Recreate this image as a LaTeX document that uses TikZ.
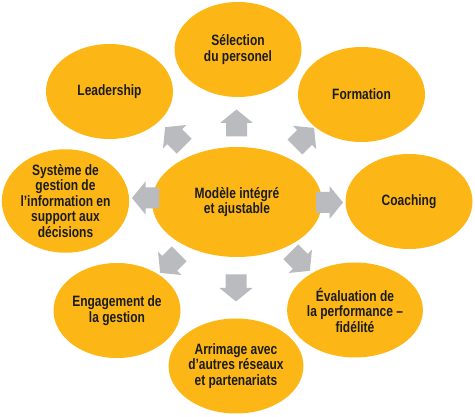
\documentclass[tikz,border=0pt]{standalone}
\usepackage{fontspec}
\setmainfont{Liberation Sans}[FakeStretch=0.8]
\usetikzlibrary{shapes.geometric}
\definecolor{ovalfill}{RGB}{252,183,22}
\definecolor{arrowgrey}{RGB}{185,187,191}
\definecolor{labeltext}{RGB}{28,28,28}
\begin{document}
\begin{tikzpicture}[x=1pt,y=-1pt,
  oval/.style={ellipse, fill=ovalfill, minimum width=127pt, minimum height=95pt,
    inner sep=0pt, align=center, text=labeltext,
    font=\bfseries\fontsize{15}{15.5}\selectfont},
  blockarrow/.pic={\fill[arrowgrey] (-13.5,-10.5) -- (0,-10.5) -- (0,-16.5)
    -- (13.5,0) -- (0,16.5) -- (0,10.5) -- (-13.5,10.5) -- cycle;}]
\fill[white] (0,0) rectangle (475,417);
\useasboundingbox (0,0) rectangle (475,417);
% central
\node[oval, minimum width=170pt, minimum height=110pt] (centre) at (237,202) {Modèle intégré\\et ajustable};
% outer
\node[oval] (sel) at (238,49.5) {Sélection\\du personel};
\node[oval] (lead) at (109.5,91.5) {Leadership};
\node[oval] (form) at (361.5,94.5) {Formation};
\node[oval] (coach) at (409,201.5) {Coaching};
\node[oval] (sys) at (65.5,201) {Système de\\gestion de\\l’information en\\support aux\\décisions};
\node[oval] (eng) at (117,310.5) {Engagement de\\la gestion};
\node[oval] (eval) at (355,310) {Évaluation de\\la performance –\\fidélité};
\node[oval] (arr) at (236,366) {Arrimage avec\\d’autres réseaux\\et partenariats};
% arrows
\pic[rotate=90] at (236.5,123) {blockarrow};
\pic[rotate=-90] at (236,288) {blockarrow};
\pic[rotate=180] at (145.5,198) {blockarrow};
\pic[rotate=0] at (329.5,202.5) {blockarrow};
\pic[rotate=135] at (174.7,136.7) {blockarrow};
\pic[rotate=45] at (304.5,137.5) {blockarrow};
\pic[rotate=-135] at (169.7,263.3) {blockarrow};
\pic[rotate=-45] at (300.3,261.3) {blockarrow};
\end{tikzpicture}
\end{document}
